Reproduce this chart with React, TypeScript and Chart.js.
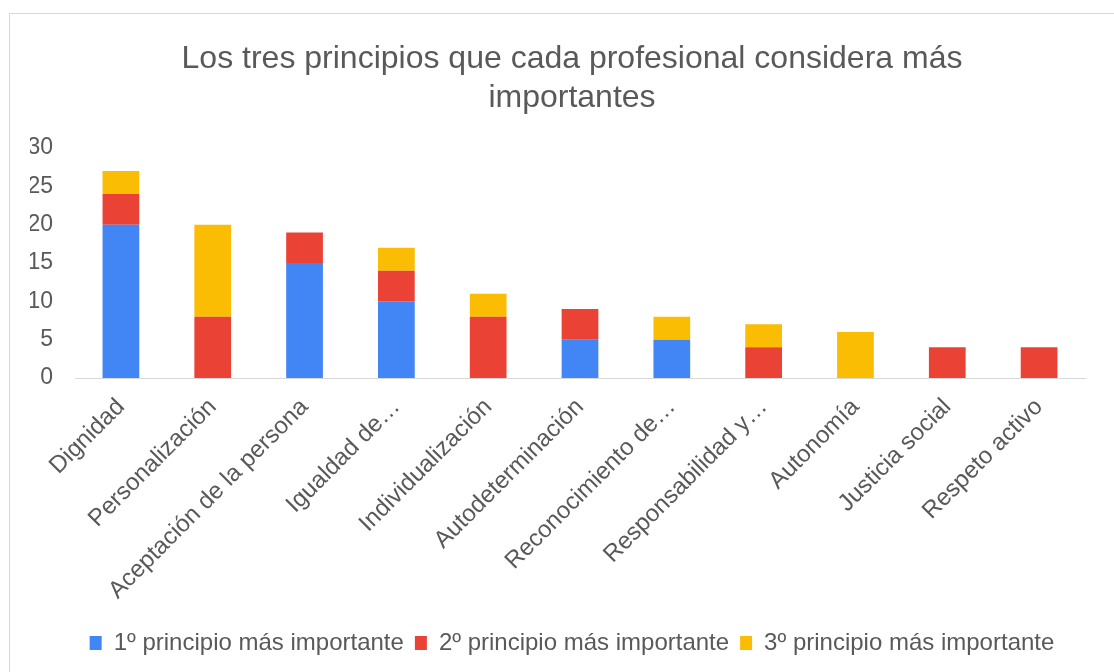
import React, { useEffect, useRef } from "react";
import { Chart, registerables } from "chart.js";

Chart.register(...registerables);

const categories = [
  "Dignidad",
  "Personalización",
  "Aceptación de la persona",
  "Igualdad de…",
  "Individualización",
  "Autodeterminación",
  "Reconocimiento de…",
  "Responsabilidad y…",
  "Autonomía",
  "Justicia social",
  "Respeto activo",
];
const primero = [20, 0, 15, 10, 0, 5, 5, 0, 0, 0, 0];
const segundo = [4, 8, 4, 4, 8, 4, 0, 4, 0, 4, 4];
const tercero = [3, 12, 0, 3, 3, 0, 3, 3, 6, 0, 0];
const seriesNames = [
  "1º principio más importante",
  "2º principio más importante",
  "3º principio más importante",
];
const titleLines = [
  "Los tres principios que cada profesional considera más",
  "importantes",
];
const yTicks = [0, 5, 10, 15, 20, 25, 30];

const FONT = "'Liberation Sans', Arial, sans-serif";
const TEXT = "#595959";

export default function App() {
  const ref = useRef<HTMLCanvasElement | null>(null);
  useEffect(() => {
    document.body.style.overflow = "hidden";
    const ctx = ref.current!;
    const chart = new Chart(ctx, {
      type: "bar",
      data: {
        labels: categories,
        datasets: [
          { label: seriesNames[0], data: primero, backgroundColor: "#4285F4" },
          { label: seriesNames[1], data: segundo, backgroundColor: "#EA4335" },
          { label: seriesNames[2], data: tercero, backgroundColor: "#FBBC04" },
        ],
      },
      options: {
        animation: false,
        responsive: false,
        devicePixelRatio: 1,
        layout: { padding: { left: 20, right: 0, top: 0, bottom: 7 } },
        datasets: { bar: { categoryPercentage: 1, barPercentage: 0.4 } },
        plugins: {
          title: {
            display: true,
            text: titleLines,
            color: TEXT,
            font: { family: FONT, size: 32, weight: "normal", lineHeight: 1.22 },
            padding: { top: 26, bottom: 30 },
          },
          legend: {
            position: "bottom",
            labels: {
              color: TEXT,
              font: { family: FONT, size: 24 },
              boxWidth: 12,
              boxHeight: 14,
              padding: 11,
            },
          },
          tooltip: { enabled: false },
        },
        scales: {
          x: {
            stacked: true,
            grid: { display: false, drawTicks: false },
            border: { display: true, color: "#d9d9d9", width: 1 },
            ticks: {
              color: TEXT,
              font: { family: FONT, size: 24 },
              minRotation: 45,
              maxRotation: 45,
              autoSkip: false,
              padding: 15,
            },
            afterFit: (s: any) => {
              s.height = 242;
            },
          },
          y: {
            stacked: true,
            min: 0,
            max: 30,
            grid: { display: false, drawTicks: false },
            border: { display: false },
            afterBuildTicks: (s: any) => {
              s.ticks = yTicks.map((v) => ({ value: v }));
            },
            ticks: {
              color: TEXT,
              font: { family: FONT, size: 23 },
              padding: 22,
            },
            afterFit: (s: any) => {
              s.width = 45;
            },
          },
          yRight: {
            position: "right",
            display: true,
            min: 0,
            max: 30,
            grid: { display: false, drawTicks: false },
            border: { display: false },
            ticks: { display: false },
            afterFit: (s: any) => {
              s.width = 29;
            },
          },
        },
      },
    });
    return () => chart.destroy();
  }, []);
  return (
    <div
      style={{
        position: "absolute",
        left: 9,
        top: 13,
        width: 1105,
        height: 659,
        borderTop: "1px solid #d9d9d9",
        borderLeft: "1px solid #d9d9d9",
        boxSizing: "border-box",
        background: "#fff",
      }}
    >
      <canvas ref={ref} width={1104} height={658} style={{ display: "block" }} />
    </div>
  );
}
